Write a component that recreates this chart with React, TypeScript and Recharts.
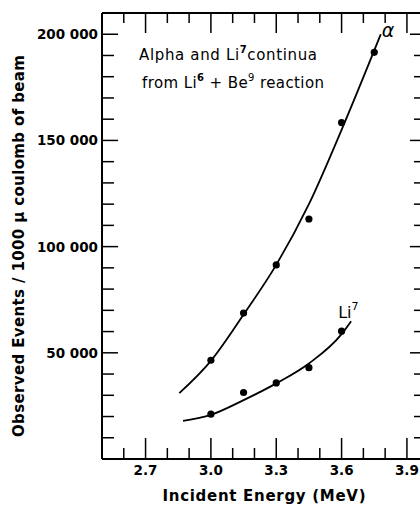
import React from "react";
import {
  ComposedChart,
  Line,
  Scatter,
  XAxis,
  YAxis,
  ReferenceDot,
} from "recharts";

// measured points (MeV, events / 1000 uC)
const alphaEnergy = [3.0, 3.15, 3.3, 3.45, 3.6, 3.75];
const alphaEvents = [46500, 68700, 91400, 113000, 158400, 191500];
const li7Energy = [3.0, 3.15, 3.3, 3.45, 3.6];
const li7Events = [21100, 31300, 35800, 43000, 60200];

// hand-drawn fit curves
const alphaFitEnergy = [2.855, 3.0, 3.15, 3.3, 3.45, 3.6, 3.78];
const alphaFitEvents = [31000, 46200, 68000, 91400, 120000, 155000, 200000];
const li7FitEnergy = [2.872, 3.0, 3.15, 3.3, 3.45, 3.6, 3.644];
const li7FitEvents = [18000, 20800, 27700, 35600, 45000, 58800, 64900];

const xTicks = [2.6, 2.7, 2.8, 2.9, 3.0, 3.1, 3.2, 3.3, 3.4, 3.5, 3.6, 3.7, 3.8, 3.9];
const yTicks = [
  10000, 20000, 30000, 40000, 50000, 60000, 70000, 80000, 90000, 100000,
  110000, 120000, 130000, 140000, 150000, 160000, 170000, 180000, 190000, 200000,
];

const pts = (xs: number[], ys: number[]) =>
  xs.map((e, i) => ({ energy: e, events: ys[i] }));

const alphaPoints = pts(alphaEnergy, alphaEvents);
const li7Points = pts(li7Energy, li7Events);
const alphaFit = pts(alphaFitEnergy, alphaFitEvents);
const li7Fit = pts(li7FitEnergy, li7FitEvents);

const FONT = "'DejaVu Sans', sans-serif";
const isMajorX = (v: number) => Math.round(v * 10) % 3 === 0;
const isMajorY = (v: number) => v % 50000 === 0;
const fmtY = (v: number) => `${v / 1000} 000`;

function LeftTick(props: any) {
  const { x, y, payload } = props;
  const major = isMajorY(payload.value);
  return (
    <g>
      <line x1={x} y1={y} x2={x + (major ? 16 : 12)} y2={y} stroke="#000" strokeWidth={1.5} />
      {major && (
        <text x={x - 4} y={y + 5} textAnchor="end" fontFamily={FONT} fontWeight="bold" fontSize={13.5} fill="#000">
          {fmtY(payload.value)}
        </text>
      )}
    </g>
  );
}

function RightTick(props: any) {
  const { x, y, payload } = props;
  const major = isMajorY(payload.value);
  return <line x1={x - (major ? 10 : 6)} y1={y} x2={x} y2={y} stroke="#000" strokeWidth={1.5} />;
}

function BottomTick(props: any) {
  const { x, y, payload } = props;
  const major = isMajorX(payload.value);
  return (
    <g>
      <line x1={x} y1={y} x2={x} y2={y - (major ? 21 : 11)} stroke="#000" strokeWidth={1.5} />
      {major && (
        <text x={x} y={y + 16} textAnchor="middle" fontFamily={FONT} fontWeight="bold" fontSize={13.5} fill="#000">
          {payload.value.toFixed(1)}
        </text>
      )}
    </g>
  );
}

function TopTick(props: any) {
  const { x, y, payload } = props;
  const major = isMajorX(payload.value);
  return <line x1={x} y1={y} x2={x} y2={y + (major ? 20 : 10)} stroke="#000" strokeWidth={1.5} />;
}

function XTitle(props: any) {
  const vb = props.viewBox;
  return (
    <text x={vb.x + vb.width / 2 + 3} y={vb.y + 42} textAnchor="middle" fontFamily={FONT} fontWeight="bold"
      fontSize={15} fill="#000" textLength={203} lengthAdjust="spacing">
      Incident  Energy  (MeV)
    </text>
  );
}

function YTitle(props: any) {
  const vb = props.viewBox;
  const cx = 24;
  const cy = vb.y + vb.height / 2 + 10;
  return (
    <text x={cx} y={cy} transform={`rotate(-90 ${cx} ${cy})`} textAnchor="middle" fontFamily={FONT}
      fontWeight="bold" fontSize={15} fill="#000" textLength={382} lengthAdjust="spacing">
      Observed  Events / 1000 μ coulomb of beam
    </text>
  );
}

function Note(props: any) {
  const { x, y } = props.viewBox;
  return (
    <g fontFamily={FONT} fontSize={15} fill="#000">
      <text x={x} y={y} textLength={178} lengthAdjust="spacing">
        Alpha and Li<tspan dy={-7} fontSize={10} fontWeight="bold">7</tspan>
        <tspan dy={7}>continua</tspan>
      </text>
      <text x={x + 3} y={y + 28} textLength={182} lengthAdjust="spacing">
        from Li<tspan dy={-7} fontSize={10} fontWeight="bold">6</tspan>
        <tspan dy={7}> + Be</tspan>
        <tspan dy={-7} fontSize={10}>9</tspan>
        <tspan dy={7}> reaction</tspan>
      </text>
    </g>
  );
}

function AlphaTag(props: any) {
  const { x, y } = props.viewBox;
  return (
    <text x={x + 1} y={y + 3} fontFamily={FONT} fontStyle="italic" fontSize={19} fill="#000">
      α
    </text>
  );
}

function LiTag(props: any) {
  const { x, y } = props.viewBox;
  return (
    <text x={x - 13} y={y - 3} fontFamily={FONT} fontSize={16} fill="#000">
      Li<tspan dy={-8} fontSize={11}>7</tspan>
    </text>
  );
}

const dot = (p: any) => <circle cx={p.cx} cy={p.cy} r={3.6} fill="#000" />;

export default function App() {
  return (
    <div style={{ position: "absolute", left: 0, top: 0, width: 420, height: 506, overflow: "hidden", background: "#fff" }}>
      <ComposedChart width={421} height={506} margin={{ top: 0, right: 0, bottom: 0, left: 0 }}>
        <XAxis
          dataKey="energy"
          type="number"
          domain={[2.5, 3.96]}
          allowDataOverflow
          ticks={xTicks}
          interval={0}
          height={47}
          tickSize={0}
          tickMargin={0}
          tickLine={false}
          tick={<BottomTick />}
          axisLine={{ stroke: "#000", strokeWidth: 2 }}
          label={<XTitle />}
        />
        <XAxis
          xAxisId="top"
          orientation="top"
          dataKey="energy"
          type="number"
          domain={[2.5, 3.96]}
          allowDataOverflow
          ticks={xTicks}
          interval={0}
          height={13}
          tickSize={0}
          tickMargin={0}
          tickLine={false}
          tick={<TopTick />}
          axisLine={{ stroke: "#000", strokeWidth: 2 }}
        />
        <YAxis
          type="number"
          domain={[0, 210000]}
          allowDataOverflow
          ticks={yTicks}
          interval={0}
          width={102}
          tickSize={0}
          tickMargin={0}
          tickLine={false}
          tick={<LeftTick />}
          axisLine={{ stroke: "#000", strokeWidth: 2 }}
          label={<YTitle />}
        />
        <YAxis
          yAxisId="right"
          orientation="right"
          type="number"
          domain={[0, 210000]}
          allowDataOverflow
          ticks={yTicks}
          interval={0}
          width={1}
          tickSize={0}
          tickMargin={0}
          tickLine={false}
          tick={<RightTick />}
          axisLine={false}
        />
        <Line data={alphaFit} dataKey="events" type="monotone" stroke="#000" strokeWidth={1.8} dot={false} isAnimationActive={false} />
        <Line data={li7Fit} dataKey="events" type="monotone" stroke="#000" strokeWidth={1.8} dot={false} isAnimationActive={false} />
        <Scatter data={alphaPoints} dataKey="events" shape={dot} isAnimationActive={false} />
        <Scatter data={li7Points} dataKey="events" shape={dot} isAnimationActive={false} />
        <ReferenceDot x={2.67} y={188000} r={0} stroke="none" label={<Note />} />
        <ReferenceDot x={3.78} y={200000} r={0} stroke="none" label={<AlphaTag />} />
        <ReferenceDot x={3.644} y={64900} r={0} stroke="none" label={<LiTag />} />
      </ComposedChart>
    </div>
  );
}
